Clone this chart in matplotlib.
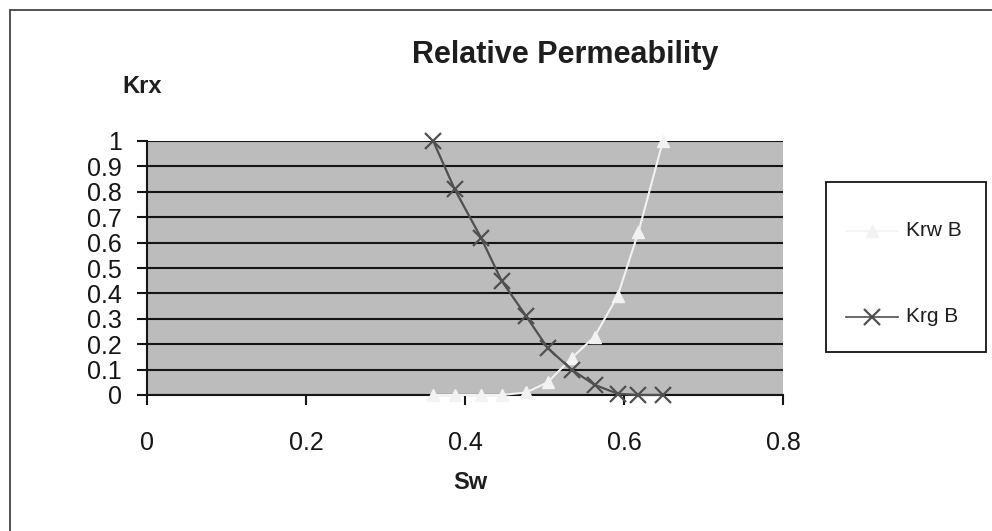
import matplotlib
matplotlib.use("Agg")
import matplotlib.pyplot as plt
from matplotlib.lines import Line2D
from matplotlib.patches import Rectangle

plt.rcParams['font.family'] = ['Liberation Sans', 'DejaVu Sans']

# Water saturation and relative permeabilities
sw = [0.360, 0.387, 0.420, 0.446, 0.477, 0.504, 0.534, 0.563, 0.592, 0.618, 0.649]
krw_b = [0.0, 0.0, 0.0, 0.0, 0.01, 0.05, 0.145, 0.23, 0.39, 0.64, 1.0]
krg_b = [1.0, 0.81, 0.62, 0.45, 0.31, 0.185, 0.10, 0.04, 0.005, 0.0, 0.0]

series_names = ["Krw B", "Krg B"]
x_ticks = [0, 0.2, 0.4, 0.6, 0.8]
x_tick_labels = ["0", "0.2", "0.4", "0.6", "0.8"]
y_ticks = [0, 0.1, 0.2, 0.3, 0.4, 0.5, 0.6, 0.7, 0.8, 0.9, 1.0]
y_tick_labels = ["0", "0.1", "0.2", "0.3", "0.4", "0.5", "0.6", "0.7", "0.8", "0.9", "1"]

W, H = 992, 531
fig = plt.figure(figsize=(W / 100, H / 100), dpi=100)
fig.patch.set_facecolor("white")


def fx(px):
    return px / W


def fy(py):
    return 1 - py / H


# chart frame (runs past the right and bottom edges)
fig.add_artist(Rectangle((fx(10), fy(545)), fx(1000), 535 / H,
                         transform=fig.transFigure, fill=False,
                         edgecolor="#444444", linewidth=1.3))

ax = fig.add_axes([fx(147), fy(395), fx(636), 254 / H])
ax.set_facecolor("#bcbcbc")
ax.set_xlim(0, 0.8)
ax.set_ylim(0, 1.0)

for y in y_ticks:
    ax.axhline(y, color="#151515", linewidth=1.5, zorder=1)

krw_style = dict(color="#f2f2f2", linewidth=1.5, marker="^", markersize=8,
                 markerfacecolor="#f2f2f2", markeredgecolor="#f2f2f2")
krg_style = dict(color="#505050", linewidth=1.6, marker="x", markersize=11,
                 markeredgewidth=1.6)

ax.plot(sw, krw_b, zorder=3, clip_on=False, **krw_style)
ax.plot(sw, krg_b, zorder=4, clip_on=False, **krg_style)

for side in ("top", "right"):
    ax.spines[side].set_visible(False)
for side in ("left", "bottom"):
    ax.spines[side].set_color("#151515")
    ax.spines[side].set_linewidth(1.5)

ax.set_xticks(x_ticks)
ax.set_xticklabels(x_tick_labels)
ax.set_yticks(y_ticks)
ax.set_yticklabels(y_tick_labels)
ax.tick_params(axis="x", direction="out", length=7, width=1.5, pad=19,
               labelsize=18, colors="#151515")
ax.tick_params(axis="y", direction="out", length=7, width=1.5, pad=11,
               labelsize=18, colors="#151515")

fig.text(fx(565), fy(63), "Relative Permeability", ha="center",
         va="baseline", fontsize=22, fontweight="bold", color="#1e1e1e")
fig.text(fx(122), fy(93), "Krx", ha="left", va="baseline",
         fontsize=17, fontweight="bold", color="#1e1e1e")
fig.text(fx(470), fy(489), "Sw", ha="center", va="baseline",
         fontsize=17, fontweight="bold", color="#1e1e1e")

# legend box with one sample row per series
fig.add_artist(Rectangle((fx(826), fy(352)), fx(160), 170 / H,
                         transform=fig.transFigure, fill=True,
                         facecolor="white", edgecolor="#151515",
                         linewidth=1.3))
legend_rows = [(231, krw_style), (317, krg_style)]
for name, (py, style) in zip(series_names, legend_rows):
    fig.add_artist(Line2D([fx(846), fx(898)], [fy(py), fy(py)],
                          transform=fig.transFigure, color=style["color"],
                          linewidth=1.2))
    fig.add_artist(Line2D([fx(872)], [fy(py)], transform=fig.transFigure,
                          marker=style["marker"],
                          markersize=style["markersize"],
                          markeredgewidth=style.get("markeredgewidth", 1.0),
                          color=style["color"], linestyle="none"))
    fig.text(fx(906), fy(py), name, ha="left", va="center", fontsize=15,
             color="#1e1e1e")

fig.savefig("out.png", dpi=100, facecolor="white")
